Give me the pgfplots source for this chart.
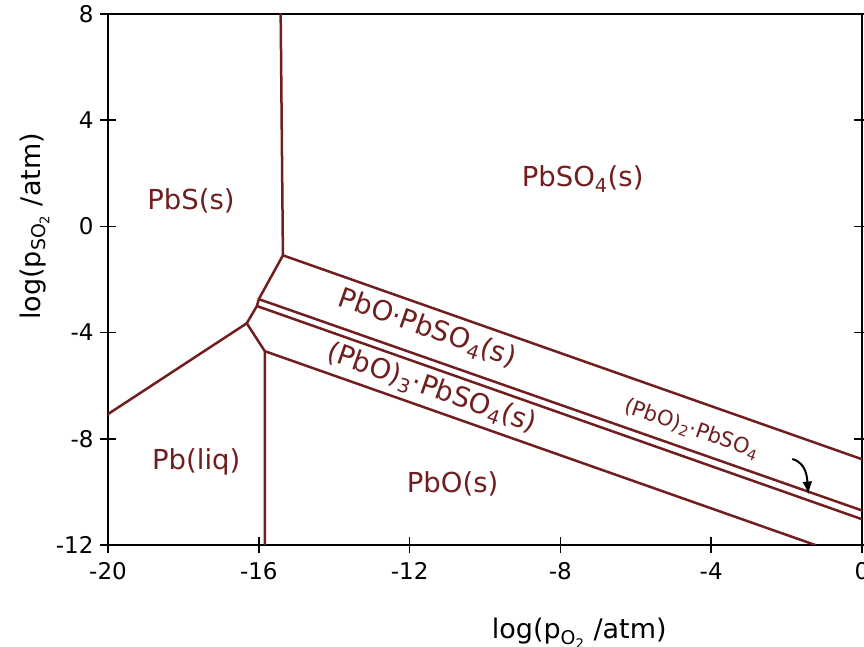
\documentclass[border=0pt]{standalone}
\usepackage{fontspec}
\setmainfont{DejaVu Sans}
\usepackage{pgfplots}
\pgfplotsset{compat=1.18}
\usetikzlibrary{arrows.meta}
\definecolor{dred}{RGB}{112,30,30}
\pgfplotsset{bline/.style={color=dred, mark=none, line width=2.5pt, line join=round, line cap=round}}
\begin{document}
\begin{tikzpicture}
\begin{axis}[
  name=ax,
  scale only axis,
  width=754pt, height=531pt,
  xmin=-20, xmax=0, ymin=-12, ymax=8,
  xtick={-20,-16,...,0}, ytick={-12,-8,...,8},
  xtick pos=bottom,
  tick align=center,
  major tick length=16pt,
  axis line style={line width=1.5pt},
  every tick/.style={black, line width=1.5pt},
  /pgf/number format/assume math mode=true,
  tick label style={font=\fontsize{23}{27}\selectfont},
  xticklabel style={yshift=-6pt},
  yticklabel style={xshift=-3pt},
  xlabel={log(p\textsubscript{O\textsubscript{2}} /atm)},
  ylabel={log(p\textsubscript{SO\textsubscript{2}} /atm)},
  label style={font=\fontsize{27}{32}\selectfont},
  xlabel style={at={(axis description cs:0.625,-0.177)}, anchor=base},
  ylabel style={at={(axis description cs:-0.090,0.60)}, anchor=base},
  clip=true,
]
% boundary chain
\addplot[bline] coordinates {(-15.42,8) (-15.36,-1.09) (-16.0,-2.74) (-16.05,-3.0) (-16.32,-3.65) (-15.84,-4.70) (-15.84,-12)};
% Pb(liq)/PbS
\addplot[bline] coordinates {(-20,-7.07) (-16.32,-3.65)};
% PbSO4 / PbO.PbSO4
\addplot[bline] coordinates {(-15.36,-1.09) (0,-8.77)};
% PbO.PbSO4 / (PbO)2.PbSO4
\addplot[bline] coordinates {(-16.0,-2.74) (0,-10.70)};
% (PbO)2.PbSO4 / (PbO)3.PbSO4
\addplot[bline] coordinates {(-16.05,-3.0) (0,-11.03)};
% (PbO)3.PbSO4 / PbO
\addplot[bline] coordinates {(-15.84,-4.70) (-1.24,-12)};
% labels
\begin{scope}[every node/.style={text=dred, font=\fontsize{27.5}{32}\selectfont}]
\node at (axis cs:-17.8,0.96) {PbS(s)};
\node at (axis cs:-7.41,1.79) {PbSO\textsubscript{4}(s)};
\node at (axis cs:-17.66,-8.87) {Pb(liq)};
\node at (axis cs:-10.86,-9.70) {PbO(s)};
\node[rotate=-19.4] at (axis cs:-11.53,-3.86) {PbO·PbSO\textsubscript{4}(s)};
\node[rotate=-19.4] at (axis cs:-11.42,-6.12) {(PbO)\textsubscript{3}·PbSO\textsubscript{4}(s)};
\node[rotate=-19.4, font=\fontsize{21}{25}\selectfont] at (axis cs:-4.52,-7.63) {(PbO)\textsubscript{2}·PbSO\textsubscript{4}};
\end{scope}
\draw[black, line width=2pt, -{Latex[length=13pt,width=10pt]}] (axis cs:-1.85,-8.76) to[out=-15,in=95] (axis cs:-1.42,-10.10);
\end{axis}
\pgfresetboundingbox
\path[use as bounding box] ([xshift=-108pt,yshift=-102pt]ax.south west) rectangle ([xshift=2pt,yshift=14pt]ax.north east);
\end{tikzpicture}
\end{document}
